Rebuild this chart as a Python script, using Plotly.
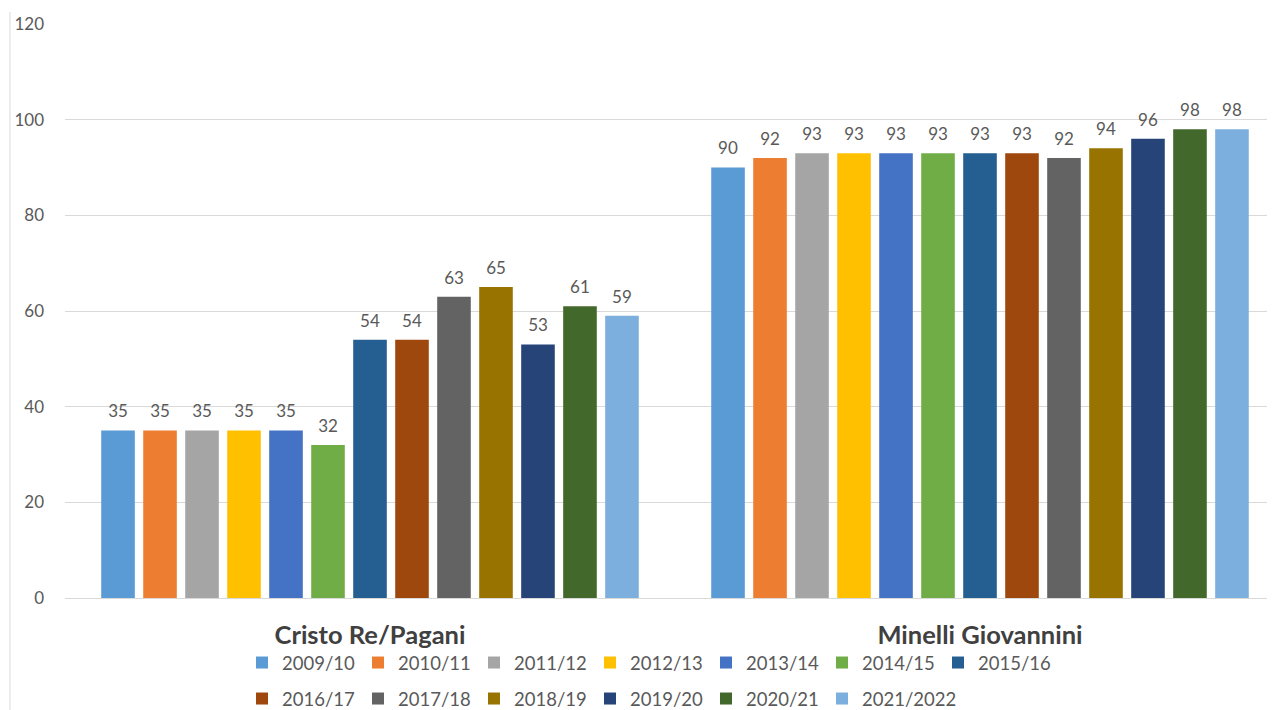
import plotly.graph_objects as go

categories = ["Cristo Re/Pagani", "Minelli Giovannini"]
series = ["2009/10", "2010/11", "2011/12", "2012/13", "2013/14", "2014/15", "2015/16",
          "2016/17", "2017/18", "2018/19", "2019/20", "2020/21", "2021/2022"]
cristo_re = [35, 35, 35, 35, 35, 32, 54, 54, 63, 65, 53, 61, 59]
minelli = [90, 92, 93, 93, 93, 93, 93, 93, 92, 94, 96, 98, 98]
colors = ["#5B9BD5", "#ED7D31", "#A5A5A5", "#FFC000", "#4472C4", "#70AD47", "#255E91",
          "#9E480E", "#636363", "#997300", "#264478", "#43682B", "#7CAFDD"]
y_ticks = [0, 20, 40, 60, 80, 100, 120]

FONT = "Lato"
# the page body has an 8px margin: work in reference pixels minus 8
OFF = 8
W, H = 1275 - OFF, 710 - OFF
PL, PT, ZERO = 65 - OFF, 24 - OFF, 598 - OFF
PB = H - ZERO
plot_w = W - PL
plot_h = ZERO - PT


def label(v):
    return ("<span style='font-size:17px'>%d</span><br>"
            "<span style='color:rgba(0,0,0,0)'>.</span>" % v)


def legend_for(i):
    if i < 7:
        return "legend"
    if i < 12:
        return "legend2"
    return "legend3"


fig = go.Figure()
for i, s in enumerate(series):
    vals = [cristo_re[i], minelli[i]]
    fig.add_trace(go.Bar(
        x=[0, 1], y=vals, name=s,
        marker=dict(color=colors[i], line=dict(width=0)),
        text=[label(v) for v in vals], textposition="outside",
        textfont=dict(size=7, color="#595959", family=FONT),
        constraintext="none",
        cliponaxis=False,
        legend=legend_for(i),
    ))

LX = 262 - OFF - 20
STEP = 116
leg_common = dict(orientation="h", xanchor="left", yanchor="middle",
                  font=dict(size=18.5, color="#595959", family=FONT),
                  entrywidth=STEP - 45, entrywidthmode="pixels",
                  itemclick=False, bgcolor="rgba(0,0,0,0)")
row1_y = (ZERO - (663 - OFF)) / plot_h
row2_y = (ZERO - (699 - OFF)) / plot_h
fig.update_layout(
    width=W, height=H,
    margin=dict(l=PL, r=0, t=PT, b=PB, autoexpand=False),
    paper_bgcolor="white", plot_bgcolor="white",
    barmode="group", bargap=0.105, bargroupgap=0.2,
    font=dict(family=FONT, color="#595959"),
    xaxis=dict(
        range=[-0.5, -0.5 + (1275 - 65) / 610.0],
        tickvals=[0, 1], ticktext=["<b>" + c + "</b>" for c in categories],
        tickfont=dict(size=25.5, color="#404040", family=FONT),
        showgrid=False, showline=False, zeroline=False,
        ticks="", ticklabelstandoff=19,
    ),
    yaxis=dict(
        range=[0, 120], tickvals=y_ticks,
        tickfont=dict(size=17, color="#595959", family=FONT),
        showgrid=True, gridcolor="#D9D9D9", gridwidth=1,
        zeroline=True, zerolinecolor="#D9D9D9", zerolinewidth=1,
        showline=False, ticks="", ticklabelstandoff=20,
    ),
    legend=dict(leg_common, x=(LX - PL) / plot_w, y=row1_y),
    legend2=dict(leg_common, x=(LX - PL) / plot_w, y=row2_y),
    legend3=dict(leg_common, x=(LX + 5 * STEP - PL) / plot_w, y=row2_y,
                 entrywidth=0),
    shapes=[dict(type="line", xref="paper", yref="paper",
                 x0=(10 - OFF - PL) / plot_w, x1=(10 - OFF - PL) / plot_w,
                 y0=(ZERO - (12 - OFF)) / plot_h, y1=(ZERO - H) / plot_h,
                 line=dict(color="#E6E6E6", width=1.5))],
)

fig.write_html("out.html")
